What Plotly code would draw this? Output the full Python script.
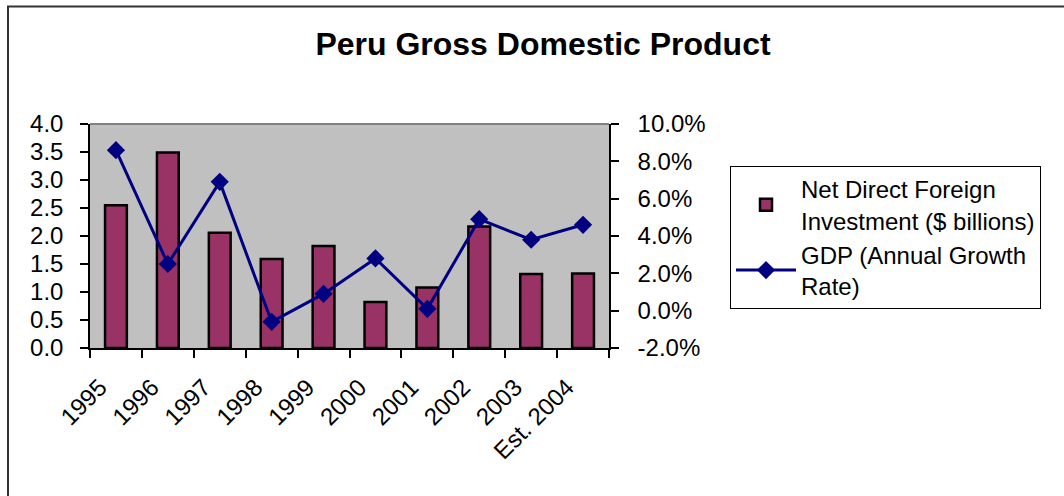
import plotly.graph_objects as go

categories = ["1995", "1996", "1997", "1998", "1999", "2000", "2001", "2002", "2003", "Est. 2004"]
fdi_billions = [2.55, 3.49, 2.06, 1.59, 1.82, 0.82, 1.08, 2.17, 1.32, 1.33]
gdp_growth_pct = [8.6, 2.5, 6.9, -0.6, 0.9, 2.8, 0.1, 4.9, 3.8, 4.6]
left_ticks = [0, 0.5, 1, 1.5, 2, 2.5, 3, 3.5, 4]
left_labels = ["0.0", "0.5", "1.0", "1.5", "2.0", "2.5", "3.0", "3.5", "4.0"]
right_ticks = [-2, 0, 2, 4, 6, 8, 10]
right_labels = ["-2.0%", "0.0%", "2.0%", "4.0%", "6.0%", "8.0%", "10.0%"]

W, H = 1064, 496
L, R, T, B = 90, 609, 124, 348
FONT = "Arial, Liberation Sans, sans-serif"

def px_x(px):
    return (px - L) / (R - L)

def px_y(py):
    return (B - py) / (B - T)

fig = go.Figure()
fig.add_trace(go.Bar(
    x=categories, y=fdi_billions,
    name="Net Direct Foreign<br>Investment ($ billions)",
    marker=dict(color="#993366", line=dict(color="black", width=2.5)),
    width=0.42, xaxis="x", yaxis="y",
))
fig.add_trace(go.Scatter(
    x=categories, y=gdp_growth_pct,
    name="GDP (Annual Growth<br>Rate)",
    mode="lines+markers",
    line=dict(color="#000080", width=3),
    marker=dict(symbol="diamond", size=14, color="#000080"),
    xaxis="x", yaxis="y2",
))

tickfont = dict(family=FONT, size=24, color="black")
fig.update_layout(
    width=W, height=H,
    margin=dict(l=L, r=W - R, t=T, b=H - B, pad=0),
    paper_bgcolor="white",
    plot_bgcolor="#C0C0C0",
    title=dict(text="<b>Peru Gross Domestic Product</b>",
               font=dict(family=FONT, size=32, color="black"),
               x=543 / W, xanchor="center", xref="container",
               y=1 - 44 / H, yanchor="middle", yref="container"),
    xaxis=dict(type="category", range=[-0.5, 9.5], tickson="boundaries",
               ticks="outside", ticklen=8, tickwidth=1.5, tickcolor="black",
               tickangle=-45, tickfont=tickfont,
               ticklabelstandoff=14, ticklabelshift=-16,
               showline=True, linecolor="black", linewidth=1.5,
               showgrid=False, zeroline=False, fixedrange=True),
    xaxis2=dict(overlaying="x", anchor="y", range=[-0.5, 9.5],
                tickmode="array", tickvals=[i - 0.5 for i in range(11)],
                ticks="inside", ticklen=8, tickwidth=1.5, tickcolor="black",
                showticklabels=False, showline=False, showgrid=False,
                zeroline=False, side="bottom"),
    yaxis=dict(range=[0, 4], tickmode="array", tickvals=left_ticks,
               ticktext=left_labels, ticks="outside", ticklen=8, tickwidth=1.5,
               tickcolor="black", tickfont=tickfont,
               showline=True, linecolor="black", linewidth=1.5,
               showgrid=False, zeroline=False, ticklabelstandoff=12),
    yaxis2=dict(range=[-2, 10], tickmode="array", tickvals=right_ticks,
                ticktext=right_labels, overlaying="y", side="right",
                anchor="x", ticks="outside", ticklen=8, tickwidth=1.5,
                tickcolor="black", tickfont=tickfont,
                showline=True, linecolor="black", linewidth=1.5,
                showgrid=False, zeroline=False, ticklabelstandoff=14),
    yaxis3=dict(range=[0, 4], tickmode="array", tickvals=left_ticks,
                overlaying="y", side="left", anchor="x",
                ticks="inside", ticklen=8, tickwidth=1.5, tickcolor="black",
                showticklabels=False, showline=False, showgrid=False, zeroline=False),
    yaxis4=dict(range=[-2, 10], tickmode="array", tickvals=right_ticks,
                overlaying="y", side="right", anchor="x",
                ticks="inside", ticklen=8, tickwidth=1.5, tickcolor="black",
                showticklabels=False, showline=False, showgrid=False, zeroline=False),
    legend=dict(x=px_x(730), y=px_y(166), xanchor="left", yanchor="top",
                bordercolor="black", borderwidth=1, bgcolor="white",
                font=dict(family=FONT, size=24, color="black"),
                itemwidth=60, tracegroupgap=6),
    showlegend=True,
    shapes=[
        dict(type="line", xref="paper", yref="paper", x0=0, x1=1, y0=1, y1=1,
             line=dict(color="#808080", width=2)),
        dict(type="rect", xref="paper", yref="paper",
             x0=px_x(8), x1=px_x(1075), y0=px_y(505), y1=px_y(6.5),
             line=dict(color="#333333", width=2), fillcolor="rgba(0,0,0,0)"),
    ],
)

fig.write_html("out.html")
